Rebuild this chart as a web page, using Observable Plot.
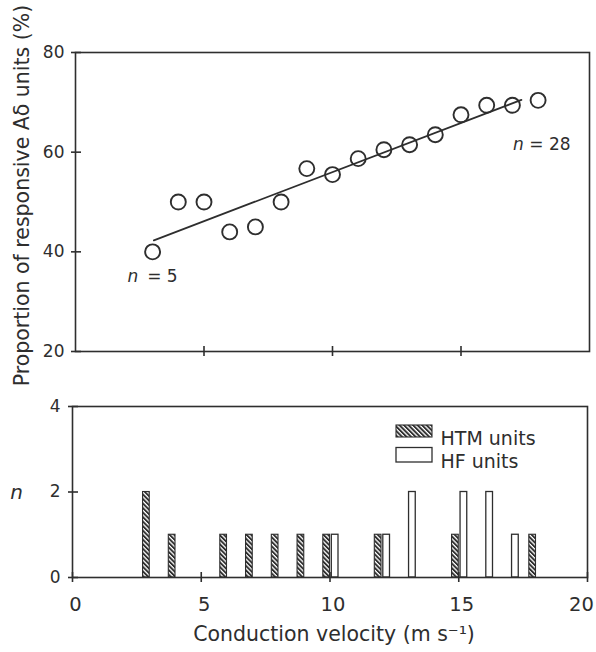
<!DOCTYPE html>
<html>
<head>
<meta charset="utf-8">
<script src="https://cdn.jsdelivr.net/npm/d3@7"></script>
<script src="https://cdn.jsdelivr.net/npm/@observablehq/plot@0.6"></script>
<style>
  html, body { margin: 0; padding: 0; background: #ffffff; }
  #chart { position: relative; width: 596px; height: 652px; overflow: hidden; background: #ffffff; }
  #chart > svg { position: absolute; left: 0; }
</style>
</head>
<body>
<div id="chart"></div>
<script>
// ---- data ----
const velocity = [3, 4, 5, 6, 7, 8, 9, 10, 11, 12, 13, 14, 15, 16, 17, 18];
const proportion = [40, 50, 50, 44, 45, 50, 56.7, 55.5, 58.7, 60.5, 61.5, 63.5, 67.5, 69.4, 69.4, 70.4];
const fitVelocity = [3.05, 17.35];
const fitProportion = [42.3, 70.5];
const annotVelocity = [3, 18];
const annotProportion = [40, 70.4];
const annotN = ["5", "28"];
const htmVelocity = [3, 4, 6, 7, 8, 9, 10, 12, 15, 18];
const htmCount = [2, 1, 1, 1, 1, 1, 1, 1, 1, 1];
const hfVelocity = [10, 12, 13, 15, 16, 17];
const hfCount = [1, 1, 2, 2, 2, 1];
const xTicks = [0, 5, 10, 15, 20];
const topYTicks = [20, 40, 60, 80];
const bottomYTicks = [0, 2, 4];
const legendLabels = ["HTM units", "HF units"];
const yTitleTop = "Proportion of responsive A\u03b4 units (%)";
const yTitleBottom = "n";
const xTitle = "Conduction velocity (m s\u207b\u00b9)";

// tables built from the arrays
const points = velocity.map((v, i) => ({v, p: proportion[i]}));
const fit = fitVelocity.map((v, i) => ({v, p: fitProportion[i]}));
const annots = annotVelocity.map((v, i) => ({v, p: annotProportion[i], n: annotN[i]}));
const htm = htmVelocity.map((v, i) => ({v, n: htmCount[i]}));
const hf = hfVelocity.map((v, i) => ({v, n: hfCount[i]}));

const ink = "#2e2e2e";
const font = "DejaVu Sans";

// ---- top panel ----
const topPlot = Plot.plot({
  width: 596, height: 380,
  marginTop: 52, marginBottom: 29, marginLeft: 75, marginRight: 7,
  style: {fontFamily: font, fontSize: "17px", color: ink, background: "transparent", overflow: "visible"},
  x: {domain: [0, 20], axis: null},
  y: {domain: [20, 80], axis: null},
  marks: [
    Plot.frame({stroke: ink, strokeWidth: 1.6}),
    Plot.axisX([5, 10, 15], {tickSize: 10, dy: -5, tickFormat: () => "", label: null, stroke: ink, strokeWidth: 1.6}),
    Plot.axisY(topYTicks, {tickSize: 10, dx: 6, tickFormat: () => "", label: null, stroke: ink, strokeWidth: 1.6}),
    Plot.axisY(topYTicks, {tickSize: 0, tickPadding: 11, label: null, fill: ink, fontSize: 17}),
    Plot.line(fit, {x: "v", y: "p", stroke: ink, strokeWidth: 1.8}),
    Plot.dot(points, {x: "v", y: "p", r: 7.5, stroke: ink, strokeWidth: 1.9, fill: "none"}),
    Plot.text(annots.slice(0, 1), {x: "v", y: "p", text: () => "n", fontStyle: "italic", textAnchor: "start", dx: -25, dy: 25, fill: ink, fontSize: 17}),
    Plot.text(annots.slice(0, 1), {x: "v", y: "p", text: d => "= " + d.n, textAnchor: "end", dx: 25, dy: 25, fill: ink, fontSize: 17}),
    Plot.text(annots.slice(1), {x: "v", y: "p", text: () => "n", fontStyle: "italic", textAnchor: "start", dx: -25, dy: 44.5, fill: ink, fontSize: 17}),
    Plot.text(annots.slice(1), {x: "v", y: "p", text: d => "= " + d.n, textAnchor: "end", dx: 32.5, dy: 44.5, fill: ink, fontSize: 17}),
    Plot.text([yTitleTop], {text: d => d, frameAnchor: "left", textAnchor: "middle", rotate: -90, dx: -53, dy: -6.5, fill: ink, fontSize: 20.5})
  ]
});
topPlot.style.top = "0px";

// ---- bottom panel ----
const bottomPlot = Plot.plot({
  width: 596, height: 272,
  marginTop: 26, marginBottom: 75, marginLeft: 72, marginRight: 9,
  style: {fontFamily: font, fontSize: "17px", color: ink, background: "transparent", overflow: "visible"},
  x: {domain: [0, 20], axis: null},
  y: {domain: [0, 4], axis: null},
  marks: [
    Plot.rect(htm, {x1: d => d.v - 0.26, x2: d => d.v, y1: 0, y2: "n", fill: "url(#hatch)", stroke: ink, strokeWidth: 1.1}),
    Plot.rect(hf, {x1: d => d.v + 0.07, x2: d => d.v + 0.33, y1: 0, y2: "n", fill: "white", stroke: ink, strokeWidth: 1.3}),
    Plot.frame({stroke: ink, strokeWidth: 1.6}),
    Plot.axisX(xTicks, {tickSize: 10, dy: -5, tickFormat: () => "", label: null, stroke: ink, strokeWidth: 1.6}),
    Plot.axisX(xTicks.slice(0, -1), {tickSize: 0, tickPadding: 20, dx: 3, label: null, fill: ink, fontSize: 19.5}),
    Plot.axisX(xTicks.slice(-1), {tickSize: 0, tickPadding: 20, dx: -6, label: null, fill: ink, fontSize: 19.5}),
    Plot.axisY(bottomYTicks, {tickSize: 10, dx: 6, tickFormat: () => "", label: null, stroke: ink, strokeWidth: 1.6}),
    Plot.axisY(bottomYTicks, {tickSize: 0, tickPadding: 12, label: null, fill: ink, fontSize: 17}),
    Plot.rect([legendLabels[0]], {insetLeft: 324, insetRight: 155, insetTop: 19, insetBottom: 140, fill: "url(#hatch)", stroke: ink, strokeWidth: 1.1}),
    Plot.rect([legendLabels[1]], {insetLeft: 324, insetRight: 155, insetTop: 41.5, insetBottom: 115, fill: "white", stroke: ink, strokeWidth: 1.3}),
    Plot.text([legendLabels[0]], {text: d => d, frameAnchor: "top-left", textAnchor: "start", dx: 368, dy: 25, fill: ink, fontSize: 19}),
    Plot.text([legendLabels[1]], {text: d => d, frameAnchor: "top-left", textAnchor: "start", dx: 368, dy: 48, fill: ink, fontSize: 19}),
    Plot.text([yTitleBottom], {text: d => d, frameAnchor: "left", textAnchor: "middle", dx: -56, dy: 1, fontStyle: "italic", fill: ink, fontSize: 20}),
    Plot.text([xTitle], {text: d => d, frameAnchor: "bottom", textAnchor: "middle", dx: 4, dy: 63, fill: ink, fontSize: 20.5})
  ]
});
bottomPlot.style.top = "380px";

// hatch pattern for HTM bars
const defs = d3.select(bottomPlot).insert("defs", ":first-child");
const pat = defs.append("pattern")
  .attr("id", "hatch")
  .attr("patternUnits", "userSpaceOnUse")
  .attr("width", 3.2).attr("height", 3.2)
  .attr("patternTransform", "rotate(-45)");
pat.append("rect").attr("width", 3.2).attr("height", 3.2).attr("fill", "white");
pat.append("rect").attr("width", 1.9).attr("height", 3.2).attr("fill", ink);

const chart = document.getElementById("chart");
chart.appendChild(topPlot);
chart.appendChild(bottomPlot);
</script>
</body>
</html>
